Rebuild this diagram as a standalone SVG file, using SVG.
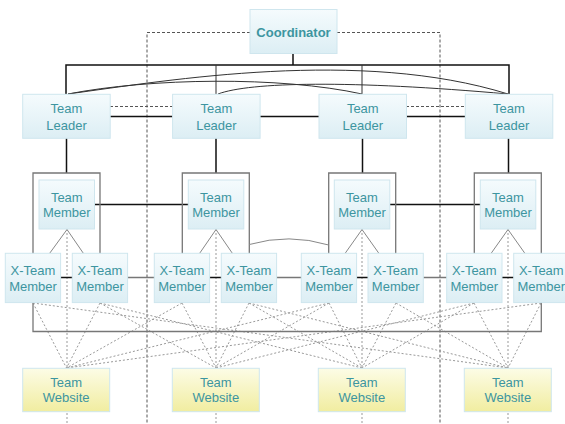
<svg xmlns="http://www.w3.org/2000/svg" width="565" height="424" viewBox="0 0 565 424">
<defs>
<linearGradient id="gb" x1="0" y1="0" x2="0" y2="1"><stop offset="0" stop-color="#f5fbfd"/><stop offset="1" stop-color="#dceef4"/></linearGradient>
<linearGradient id="gy" x1="0" y1="0" x2="0" y2="1"><stop offset="0" stop-color="#fcfce6"/><stop offset="1" stop-color="#f1eda0"/></linearGradient>
<style>
.n{fill:url(#gb);stroke:#cfe6ee;stroke-width:1}
.w{fill:url(#gy);stroke:#cfe6ee;stroke-width:1}
text{font-family:"Liberation Sans",Arial,sans-serif;font-size:13px;fill:#3d95a0;text-anchor:middle}
.b{font-weight:bold}
.k{stroke:#111;stroke-width:1.5;fill:none}
.kt{stroke:#333;stroke-width:1;fill:none}
.g{stroke:#777;stroke-width:1.3;fill:none}
.gl{stroke:#888;stroke-width:1;fill:none}
.d{stroke:#555;stroke-width:1;stroke-dasharray:3 2;fill:none}
.dt{stroke:#999;stroke-width:1;stroke-dasharray:2 2;fill:none}
</style>
</defs>
<g id="connectors">
<path class="d" d="M250 32.5H147V424M337 32.5H440V424"/>
<path class="dt" d="M67 229V424M216 229V424M362 229V424M508 229V424"/>
<path class="dt" d="M33 303L66.5 368M100 303L66.5 368M182 303L66.5 368M541 303L66.5 368M329 303L66.5 368
M182 303L216 368M249 303L216 368M100 303L216 368M329 303L216 368M474 303L216 368
M329 303L362 368M396 303L362 368M249 303L362 368M474 303L362 368M100 303L362 368
M474 303L508 368M541 303L508 368M396 303L508 368M33 303L508 368M249 303L508 368"/>
<path class="k" d="M293 53V65M66 94V65H509V94"/>
<path class="kt" d="M216 65V94M362 65V94"/>
<path class="kt" d="M68 94C170 80 360 48 508 94"/>
<path class="kt" d="M68 94C150 78 280 76 362 94"/>
<path class="kt" d="M218 94C250 82 350 80 508 94"/>
<path class="k" d="M110 116.5H173M260 116.5H319M406 116.5H465"/>
<path class="d" d="M110 106.5H173M406 106.5H465"/>
<path class="k" d="M66.5 138V173M216 138V173M362.5 138V173M508.5 138V173"/>
<path class="k" d="M95 204.5H189M390 204.5H481"/>
<path class="g" d="M33 254V173H100V254M182.3 254V173H249.3V254M328.7 254V173H395.7V254M474.3 254V173H541.3V254"/>
<path class="g" d="M33 300V331.5H541.3V300" stroke="#555"/>
<path class="gl" d="M249.3 244.5Q289 233 328.7 245"/>
<path class="gl" d="M49.5 253.5L67 229.5L83.5 253.5M199.5 253.5L216 229.5L232.5 253.5M345 253.5L362 229.5L379 253.5M491 253.5L508 229.5L525 253.5"/>
<path class="k" d="M60 277.5H73M209.5 277.5H222M356.5 277.5H368.5M502 277.5H514"/>
<path class="g" d="M127.5 277.5H155M276.5 277.5H302M423 277.5H447"/>
</g>
<g id="coordinator"><rect class="n" x="250" y="9.5" width="87" height="44"/><text class="b" x="293.5" y="36.5">Coordinator</text></g>
<g id="tl1"><rect class="n" x="22.7" y="94.3" width="87.5" height="44"/><text x="66.5" y="113">Team</text><text x="66.5" y="129.5">Leader</text></g>
<g id="tl2"><rect class="n" x="172.6" y="94.3" width="87.5" height="44"/><text x="216.4" y="113">Team</text><text x="216.4" y="129.5">Leader</text></g>
<g id="tl3"><rect class="n" x="319" y="94.3" width="87.5" height="44"/><text x="362.8" y="113">Team</text><text x="362.8" y="129.5">Leader</text></g>
<g id="tl4"><rect class="n" x="465.3" y="94.3" width="87.5" height="44"/><text x="509" y="113">Team</text><text x="509" y="129.5">Leader</text></g>
<g id="tm1"><rect class="n" x="39" y="180" width="55.5" height="49"/><text x="66.8" y="202">Team</text><text x="66.8" y="217">Member</text></g>
<g id="tm2"><rect class="n" x="188.3" y="180" width="55.5" height="49"/><text x="216" y="202">Team</text><text x="216" y="217">Member</text></g>
<g id="tm3"><rect class="n" x="334.3" y="180" width="55.5" height="49"/><text x="362" y="202">Team</text><text x="362" y="217">Member</text></g>
<g id="tm4"><rect class="n" x="480.3" y="180" width="55.5" height="49"/><text x="508" y="202">Team</text><text x="508" y="217">Member</text></g>
<g id="xt1"><rect class="n" x="5.3" y="253.3" width="55.3" height="49.3"/><text x="33" y="274.5">X-Team</text><text x="33" y="290.5">Member</text></g>
<g id="xt2"><rect class="n" x="72.3" y="253.3" width="55.3" height="49.3"/><text x="100" y="274.5">X-Team</text><text x="100" y="290.5">Member</text></g>
<g id="xt3"><rect class="n" x="154.3" y="253.3" width="55.3" height="49.3"/><text x="182" y="274.5">X-Team</text><text x="182" y="290.5">Member</text></g>
<g id="xt4"><rect class="n" x="221.3" y="253.3" width="55.3" height="49.3"/><text x="249" y="274.5">X-Team</text><text x="249" y="290.5">Member</text></g>
<g id="xt5"><rect class="n" x="301.3" y="253.3" width="55.3" height="49.3"/><text x="329" y="274.5">X-Team</text><text x="329" y="290.5">Member</text></g>
<g id="xt6"><rect class="n" x="368" y="253.3" width="55.3" height="49.3"/><text x="395.7" y="274.5">X-Team</text><text x="395.7" y="290.5">Member</text></g>
<g id="xt7"><rect class="n" x="446.7" y="253.3" width="55.3" height="49.3"/><text x="474.3" y="274.5">X-Team</text><text x="474.3" y="290.5">Member</text></g>
<g id="xt8"><rect class="n" x="513.7" y="253.3" width="55.3" height="49.3"/><text x="541.3" y="274.5">X-Team</text><text x="541.3" y="290.5">Member</text></g>
<g id="tw1"><rect class="w" x="22.7" y="368.3" width="87" height="43.4"/><text x="66.2" y="386.5">Team</text><text x="66.2" y="402">Website</text></g>
<g id="tw2"><rect class="w" x="172.3" y="368.3" width="87" height="43.4"/><text x="215.8" y="386.5">Team</text><text x="215.8" y="402">Website</text></g>
<g id="tw3"><rect class="w" x="318.3" y="368.3" width="87" height="43.4"/><text x="361.8" y="386.5">Team</text><text x="361.8" y="402">Website</text></g>
<g id="tw4"><rect class="w" x="464.3" y="368.3" width="87" height="43.4"/><text x="507.8" y="386.5">Team</text><text x="507.8" y="402">Website</text></g>
</svg>
